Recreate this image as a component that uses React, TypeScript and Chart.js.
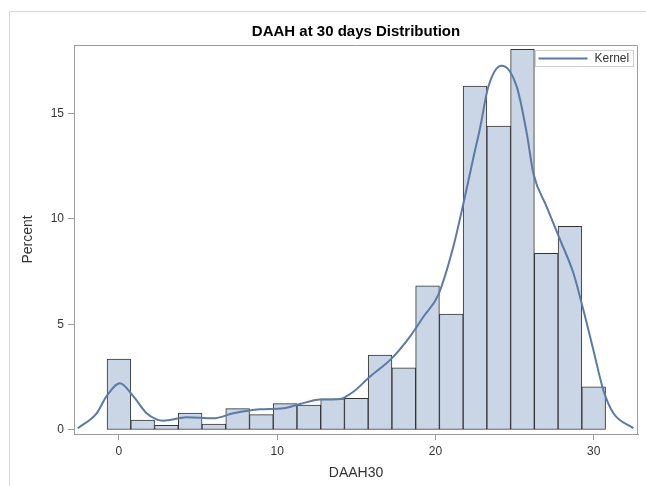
import React, { useEffect, useRef } from "react";
import { Chart, registerables } from "chart.js";

Chart.register(...registerables);

// ---- data ----
const binCenters = [0, 1.5, 3, 4.5, 6, 7.5, 9, 10.5, 12, 13.5, 15, 16.5, 18, 19.5, 21, 22.5, 24, 25.5, 27, 28.5, 30];
const binPercents = [3.36, 0.47, 0.22, 0.8, 0.28, 1.01, 0.73, 1.25, 1.18, 1.47, 1.5, 3.55, 2.94, 6.83, 5.49, 16.29, 14.39, 18.02, 8.37, 9.64, 2.04];

const kernelX = [-2.6, -1.41, -0.78, 0.06, 0.9, 1.75, 2.38, 2.8, 4.28, 5.96, 7.23, 8.91, 10.39, 11.44, 12.7, 13.97, 14.81, 15.87, 17.24, 18.39, 19.24, 20.18, 21.13, 21.76, 22.4, 22.82, 23.34, 24.19, 25.14, 25.77, 26.19, 27.03, 27.88, 28.72, 29.35, 29.98, 30.61, 31.25, 32.51];
const kernelY = [0.08, 0.79, 1.6, 2.21, 1.6, 0.79, 0.5, 0.44, 0.6, 0.55, 0.79, 0.98, 1.03, 1.23, 1.44, 1.47, 1.81, 2.53, 3.39, 4.42, 5.36, 6.4, 8.68, 10.7, 12.9, 14.3, 16.25, 17.25, 16.25, 14.05, 12.15, 10.57, 9.0, 7.42, 5.68, 3.79, 1.89, 0.79, 0.08];

const xTickValues = [0, 10, 20, 30];
const yTickValues = [0, 5, 10, 15];

const titleText = "DAAH at 30 days Distribution";
const xAxisLabel = "DAAH30";
const yAxisLabel = "Percent";
const legendLabel = "Kernel";

const xRange = [-2.84, 32.8];
const yRange = [-0.19, 18.23];

const FONT = '"Liberation Sans", Arial, Helvetica, sans-serif';
const BAR_FILL = "#cad5e6";
const BAR_EDGE = "#333333";
const LINE_COLOR = "#5b7aa6";
const AXIS_COLOR = "#9c9c9c";
const TEXT_COLOR = "#333333";

const decorPlugin = {
  id: "decor",
  beforeDraw(chart: any) {
    const ctx = chart.ctx as CanvasRenderingContext2D;
    const { left, right } = chart.chartArea;
    ctx.save();
    ctx.strokeStyle = "#d6d6d6";
    ctx.lineWidth = 1;
    ctx.beginPath();
    ctx.moveTo(9.5, chart.height);
    ctx.lineTo(9.5, 11.5);
    ctx.lineTo(chart.width, 11.5);
    ctx.stroke();
    ctx.fillStyle = "#000000";
    ctx.font = `bold 15px ${FONT}`;
    ctx.textAlign = "center";
    ctx.textBaseline = "alphabetic";
    ctx.fillText(titleText, (left + right) / 2, 36);
    ctx.restore();
  },
  afterDraw(chart: any) {
    const ctx = chart.ctx as CanvasRenderingContext2D;
    const { left, right, top, bottom } = chart.chartArea;
    ctx.save();
    ctx.strokeStyle = AXIS_COLOR;
    ctx.lineWidth = 1;
    ctx.beginPath();
    ctx.moveTo(left, top + 0.5);
    ctx.lineTo(right - 0.5, top + 0.5);
    ctx.lineTo(right - 0.5, bottom);
    ctx.stroke();
    const bw = 98, bh = 16;
    const bx = right - 5 - bw + 0.5;
    const by = top + 5 + 0.5;
    ctx.fillStyle = "#ffffff";
    ctx.fillRect(bx, by, bw, bh);
    ctx.strokeStyle = "#d0d0d0";
    ctx.strokeRect(bx, by, bw, bh);
    ctx.strokeStyle = LINE_COLOR;
    ctx.lineWidth = 2;
    ctx.beginPath();
    ctx.moveTo(bx + 3, by + bh / 2);
    ctx.lineTo(bx + 52, by + bh / 2);
    ctx.stroke();
    ctx.fillStyle = TEXT_COLOR;
    ctx.font = `12px ${FONT}`;
    ctx.textAlign = "left";
    ctx.textBaseline = "middle";
    ctx.fillText(legendLabel, bx + 59, by + bh / 2 + 0.5);
    ctx.restore();
  },
};

export default function App() {
  const ref = useRef<HTMLCanvasElement | null>(null);

  useEffect(() => {
    if (!ref.current) return;
    const chart = new Chart(ref.current, {
      type: "bar",
      data: {
        datasets: [
          {
            type: "line",
            label: legendLabel,
            data: kernelX.map((x, i) => ({ x, y: kernelY[i] })),
            borderColor: LINE_COLOR,
            borderWidth: 2,
            pointRadius: 0,
            fill: false,
            cubicInterpolationMode: "monotone",
            order: 0,
          } as any,
          {
            type: "bar",
            label: "Percent",
            data: binCenters.map((x, i) => ({ x, y: binPercents[i] })),
            backgroundColor: BAR_FILL,
            borderColor: BAR_EDGE,
            borderWidth: 1,
            borderSkipped: false,
            barPercentage: 1,
            categoryPercentage: 1,
            grouped: false,
            order: 1,
          } as any,
        ],
      },
      options: {
        responsive: false,
        animation: false,
        events: [],
        layout: { padding: { top: 45, right: 8, left: 0, bottom: 0 } },
        plugins: {
          legend: { display: false },
          title: { display: false },
          tooltip: { enabled: false },
        },
        scales: {
          x: {
            type: "linear",
            offset: false,
            min: xRange[0],
            max: xRange[1],
            afterBuildTicks: (scale: any) => {
              scale.ticks = xTickValues.map((v) => ({ value: v }));
            },
            afterFit: (scale: any) => {
              scale.height = 52;
            },
            grid: { display: true, offset: false, drawOnChartArea: false, drawTicks: true, tickLength: 6, color: AXIS_COLOR },
            border: { display: true, color: AXIS_COLOR },
            ticks: { padding: 4, color: TEXT_COLOR, font: { family: FONT, size: 12 }, maxRotation: 0 },
            title: {
              display: true,
              text: xAxisLabel,
              color: TEXT_COLOR,
              font: { family: FONT, size: 14 },
              padding: { top: 0, bottom: 4.6 },
            },
          },
          y: {
            type: "linear",
            min: yRange[0],
            max: yRange[1],
            afterBuildTicks: (scale: any) => {
              scale.ticks = yTickValues.map((v) => ({ value: v }));
            },
            afterFit: (scale: any) => {
              scale.width = 74;
            },
            grid: { display: true, drawOnChartArea: false, drawTicks: true, tickLength: 6, color: AXIS_COLOR },
            border: { display: true, color: AXIS_COLOR },
            ticks: { padding: 4, color: TEXT_COLOR, font: { family: FONT, size: 12 } },
            title: {
              display: true,
              text: yAxisLabel,
              color: TEXT_COLOR,
              font: { family: FONT, size: 14 },
              padding: { top: 19.6, bottom: 0 },
            },
          },
        },
      } as any,
      plugins: [decorPlugin],
    });
    return () => chart.destroy();
  }, []);

  return (
    <div style={{ position: "absolute", left: 0, top: 0, width: 646, height: 486, background: "#fff" }}>
      <canvas ref={ref} width={646} height={486} style={{ width: 646, height: 486, display: "block" }} />
    </div>
  );
}
